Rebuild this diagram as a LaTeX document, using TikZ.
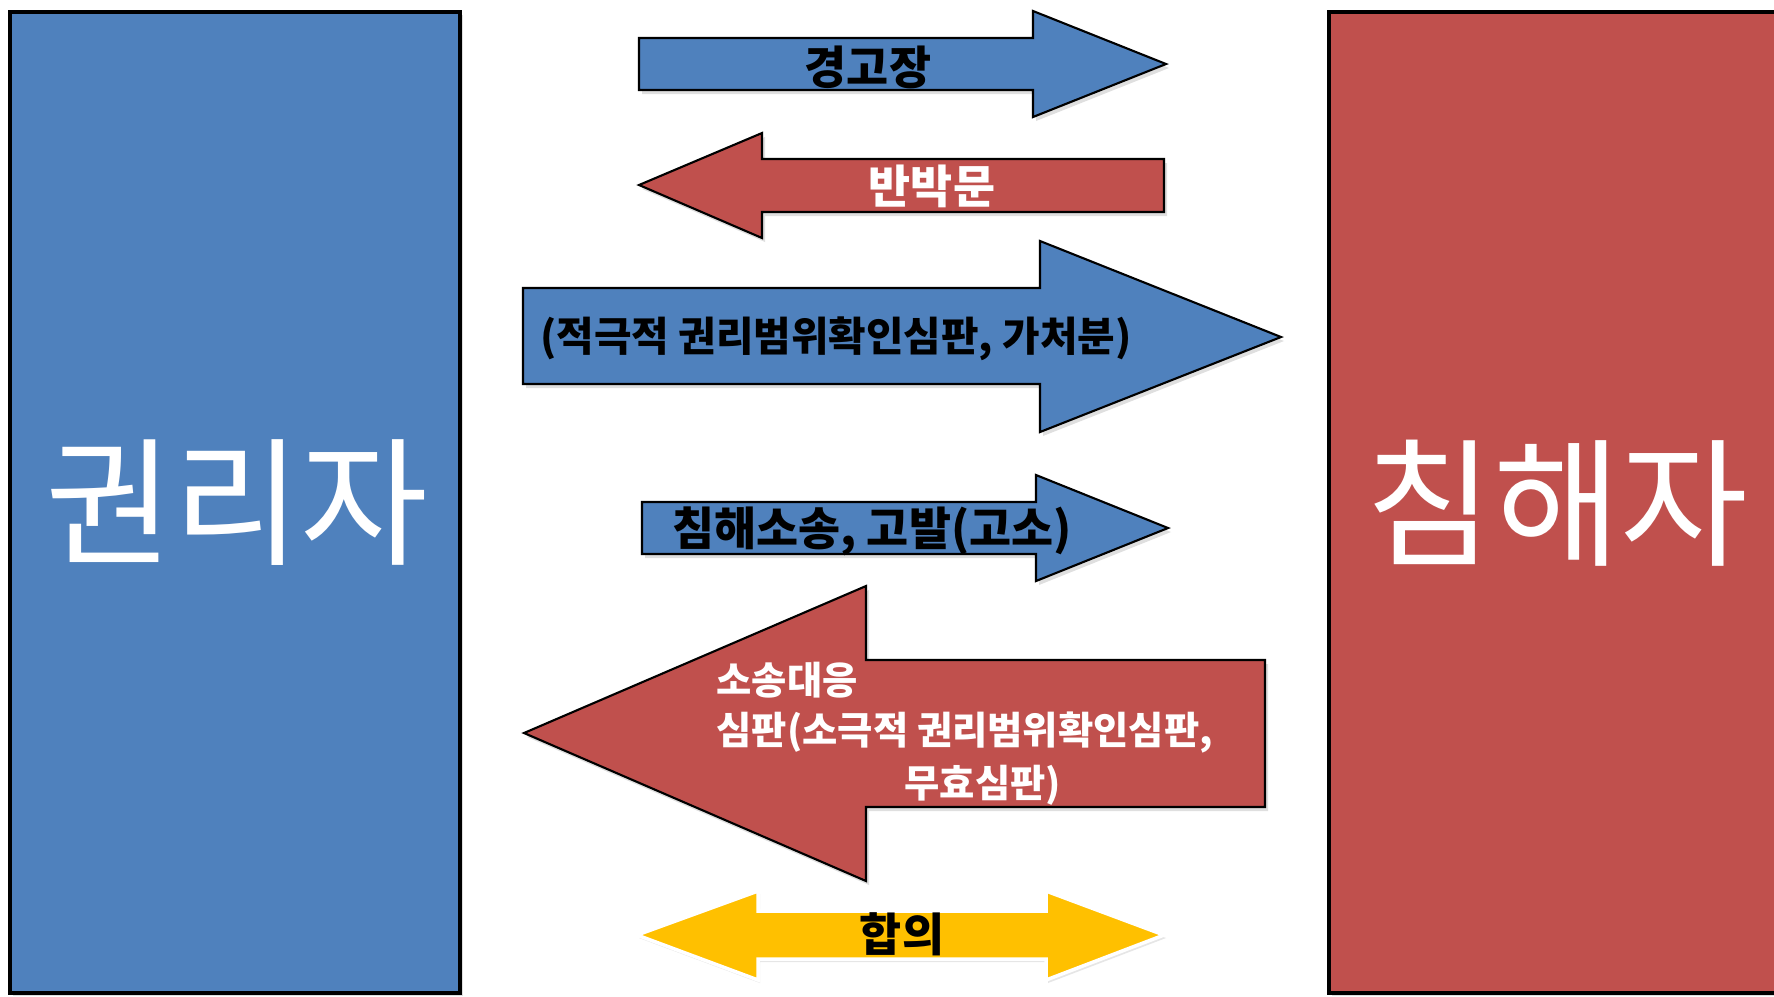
\documentclass[tikz,border=0pt]{standalone}
\usepackage{fontspec}
\newfontfamily\kr{Noto Sans CJK KR}
\usetikzlibrary{shadows}
\definecolor{pblue}{HTML}{4F81BD}
\definecolor{pred}{HTML}{C0504D}
\definecolor{pyellow}{HTML}{FFC000}
\begin{document}
\begin{tikzpicture}[x=0.01cm,y=-0.01cm,
  party/.style={line width=1.3pt, draw=black, drop shadow={opacity=0.25, shadow xshift=0.03cm, shadow yshift=-0.03cm}},
  arrowshape/.style={line width=0.6pt, draw=black, line join=miter, drop shadow={opacity=0.25, shadow xshift=0.03cm, shadow yshift=-0.04cm}},
  lbl/.style={font=\kr\bfseries\fontsize{13}{15}\selectfont, inner sep=0},
  smalllbl/.style={font=\kr\bfseries\fontsize{10.9}{12}\selectfont, inner sep=0},
  big/.style={font=\kr\fontsize{39.5}{44}\selectfont, text=white, inner sep=0}]
\useasboundingbox (0,0) rectangle (1774,996);
% parties
\path[party, fill=pblue] (10,12) rectangle (460,993);
\path[party, fill=pred] (1329,12) rectangle (1800,993);
\node[big] (holder) at (237,503) {권리자};
\node[big] (infringer) at (1557,503) {침해자};
% arrow 1
\path[arrowshape, fill=pblue] (639,38) -- (1033,38) -- (1033,11) -- (1166,64) -- (1033,117) -- (1033,90) -- (639,90) -- cycle;
\node[lbl] (warn) at (868,67) {경고장};
% arrow 2
\path[arrowshape, fill=pred] (1164,159) -- (762,159) -- (762,133) -- (639,185) -- (762,238) -- (762,212) -- (1164,212) -- cycle;
\node[lbl, text=white] (rebut) at (932,186) {반박문};
% arrow 3
\path[arrowshape, fill=pblue] (523,288) -- (1040,288) -- (1040,241) -- (1281,337) -- (1040,432) -- (1040,384) -- (523,384) -- cycle;
\node[lbl, font=\kr\bfseries\fontsize{11.6}{13}\selectfont] (active) at (836,339) {(적극적 권리범위확인심판, 가처분)};
% arrow 4
\path[arrowshape, fill=pblue] (642,502) -- (1036,502) -- (1036,475) -- (1168,528) -- (1036,581) -- (1036,554) -- (642,554) -- cycle;
\node[lbl] (suit) at (872,531) {침해소송, 고발(고소)};
% arrow 5
\path[arrowshape, fill=pred] (1265,660) -- (866,660) -- (866,586) -- (524,733) -- (866,881) -- (866,807) -- (1265,807) -- cycle;
\node[smalllbl, text=white, anchor=west] (resp1) at (716,680) {소송대응};
\node[smalllbl, text=white, anchor=west] (resp2) at (716,733) {심판(소극적 권리범위확인심판,};
\node[smalllbl, text=white, anchor=west] (resp3) at (904,785) {무효심판)};
% arrow 6
\path[fill=pyellow, draw=white, line width=1pt, line join=miter, drop shadow={opacity=0.2, shadow xshift=0.02cm, shadow yshift=-0.03cm}]
  (637,935) -- (758,891) -- (758,911) -- (1046,911) -- (1046,891) -- (1164,935) -- (1046,980) -- (1046,959) -- (758,959) -- (758,980) -- cycle;
\node[lbl, font=\kr\bfseries\fontsize{13}{15}\selectfont] (agree) at (902,934) {합의};
\end{tikzpicture}
\end{document}
